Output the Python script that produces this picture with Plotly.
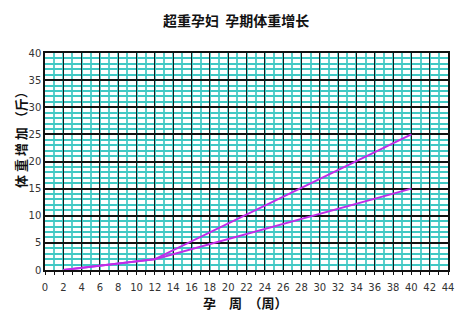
import plotly.graph_objects as go

weeks = [2, 12, 40]
gain_upper = [0, 2, 25]
gain_lower = [0, 2, 15]

x_ticks = list(range(0, 45, 2))
y_ticks = list(range(0, 41, 5))

title_text = "超重孕妇  孕期体重增长"
x_title = "孕　周　（周）"
y_title = "体 重 增 加 （斤）"

line_color = "#C02CE8"
cyan_h = "#40C8C4"
cyan_v = "#5CD0CC"

fig = go.Figure()
fig.add_trace(go.Scatter(x=weeks, y=gain_upper, mode="lines",
                         line=dict(color=line_color, width=2), showlegend=False))
fig.add_trace(go.Scatter(x=weeks, y=gain_lower, mode="lines",
                         line=dict(color=line_color, width=2), showlegend=False))

tickfont = dict(family="DejaVu Sans", size=10, color="#333333")

fig.update_layout(
    width=474, height=318,
    margin=dict(l=45, r=26, t=53, b=48),
    paper_bgcolor="white", plot_bgcolor="white",
    xaxis=dict(range=[0, 44], tickvals=x_ticks, ticktext=[str(v) for v in x_ticks],
               showgrid=True, gridcolor="#1a1a1a", gridwidth=1.3,
               minor=dict(dtick=1, tick0=0, showgrid=True, gridcolor=cyan_v, gridwidth=1.5,
                          ticks="outside", ticklen=3, tickcolor="#111111"),
               ticks="outside", ticklen=3, tickcolor="#111111",
               showline=True, linecolor="#111111", linewidth=1.5, mirror=True,
               zeroline=False, tickfont=tickfont, ticklabelstandoff=4),
    yaxis=dict(range=[0, 40], tickvals=y_ticks, ticktext=[str(v) for v in y_ticks],
               showgrid=True, gridcolor="#111111", gridwidth=2,
               minor=dict(dtick=1, tick0=0, showgrid=True, gridcolor=cyan_h, gridwidth=1.8),
               ticks="", showline=True, linecolor="#111111", linewidth=1.5, mirror=True,
               zeroline=False, tickfont=tickfont),
    annotations=[
        dict(text="<b>" + title_text + "</b>", xref="paper", yref="paper",
             x=(236 - 45) / 403, y=(318 - 48 - 20) / 217, xanchor="center", yanchor="middle",
             showarrow=False, font=dict(family="Noto Sans CJK SC", size=14, color="#111111")),
        dict(text="<b>" + x_title + "</b>", xref="paper", yref="paper",
             x=(245 - 45) / 403, y=-(302 - 270) / 217, xanchor="center", yanchor="middle",
             showarrow=False, font=dict(family="Noto Sans CJK SC", size=13, color="#111111")),
        dict(text="<b>" + y_title + "</b>", xref="paper", yref="paper",
             x=-(45 - 20) / 403, y=(270 - 137) / 217, xanchor="center", yanchor="middle",
             textangle=-90, showarrow=False,
             font=dict(family="Noto Sans CJK SC", size=13, color="#111111")),
    ],
)

fig.write_html("out.html")
